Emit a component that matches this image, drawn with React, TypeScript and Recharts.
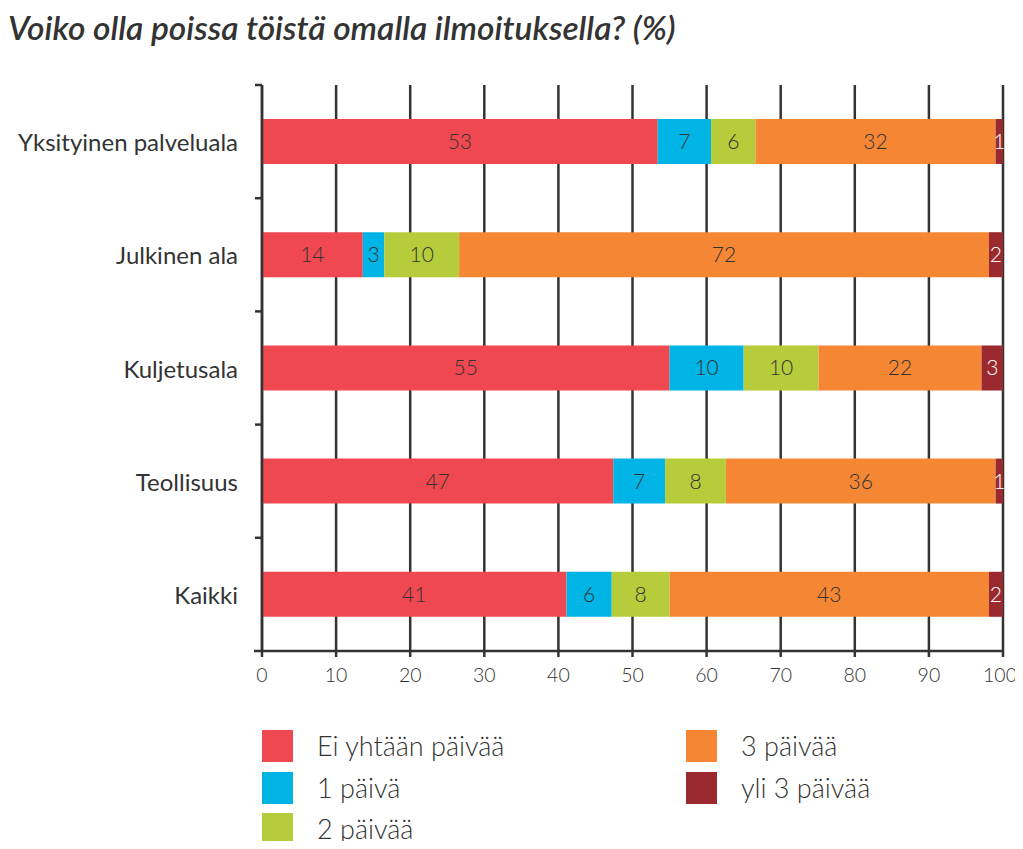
import React from 'react';
import { BarChart, Bar, XAxis, YAxis, CartesianGrid, LabelList } from 'recharts';

const categories = ['Yksityinen palveluala', 'Julkinen ala', 'Kuljetusala', 'Teollisuus', 'Kaikki'];
const eiYhtaan = [53.4, 13.6, 55.0, 47.4, 41.1];
const yksiPaiva = [7.2, 2.9, 10.0, 7.0, 6.1];
const kaksiPaivaa = [6.0, 10.1, 10.1, 8.2, 7.8];
const kolmePaivaa = [32.4, 71.5, 22.0, 36.4, 43.1];
const yliKolme = [1.0, 1.9, 2.9, 1.0, 1.9];
const xTicks = [0, 10, 20, 30, 40, 50, 60, 70, 80, 90, 100];

const seriesNames = ['Ei yhtään päivää', '1 päivä', '2 päivää', '3 päivää', 'yli 3 päivää'];
const seriesColors = ['#EF4850', '#00B4E5', '#B6CC3B', '#F58634', '#9A2A2E'];
const labelColors = ['#333333', '#333333', '#333333', '#333333', '#ffffff'];
const seriesKeys = ['s0', 's1', 's2', 's3', 's4'];
const seriesValues = [eiYhtaan, yksiPaiva, kaksiPaivaa, kolmePaivaa, yliKolme];

const data = categories.map((name, i) => {
  const row: any = { name };
  seriesKeys.forEach((k, j) => (row[k] = seriesValues[j][i]));
  return row;
});

const W = 1007;
const H = 700;
const TOP = 77;
const LEFT = 254;
const RIGHT = 995;
const BOTTOM = 643;
const XAXIS_H = 30;
const BAND = (BOTTOM - TOP) / categories.length;
const INK = '#333333';
const FONT = 'Lato, "Open Sans", sans-serif';

const CategoryTick = (props: any) => {
  const { y, payload, index } = props;
  const last = index === categories.length - 1;
  return (
    <g>
      <text
        x={LEFT - 24}
        y={y}
        textAnchor="end"
        dominantBaseline="central"
        fontFamily={FONT}
        fontSize={24}
        fill={INK}
      >
        {payload.value}
      </text>
      <line x1={LEFT - 7} x2={LEFT} y1={y - BAND / 2} y2={y - BAND / 2} stroke={INK} strokeWidth={2.5} />
      {last && (
        <line x1={LEFT - 8} x2={LEFT} y1={y + BAND / 2} y2={y + BAND / 2} stroke={INK} strokeWidth={2.5} />
      )}
    </g>
  );
};

const ValueTick = (props: any) => {
  const { x, payload } = props;
  const isLast = payload.value === xTicks[xTicks.length - 1];
  return (
    <text
      x={isLast ? x - 3 : x}
      y={BOTTOM + 23}
      textAnchor="middle"
      dominantBaseline="central"
      fontFamily={FONT}
      fontWeight={300}
      fontSize={19.5}
      fill={INK}
    >
      {payload.value}
    </text>
  );
};

const ChartLegend = () => {
  const col1 = [0, 1, 2];
  const col2 = [3, 4];
  const item = (i: number, x: number, row: number) => (
    <div
      key={i}
      style={{ position: 'absolute', left: x, top: row * 41.5, display: 'flex', alignItems: 'center', height: 32 }}
    >
      <div style={{ width: 31, height: 32, background: seriesColors[i], flex: 'none' }} />
      <span
        style={{
          marginLeft: 24,
          fontFamily: FONT,
          fontWeight: 300,
          fontSize: 27,
          lineHeight: '32px',
          color: INK,
          whiteSpace: 'nowrap',
        }}
      >
        {seriesNames[i]}
      </span>
    </div>
  );
  return (
    <div style={{ position: 'absolute', left: 254, top: 722, width: 700, height: 116 }}>
      {col1.map((i, r) => item(i, 0, r))}
      {col2.map((i, r) => item(i, 424, r))}
    </div>
  );
};

export default function App() {
  return (
    <div style={{ position: 'relative', width: W, height: 833, background: '#fff' }}>
      <style>{'.recharts-surface{overflow:visible}'}</style>
      <div
        style={{
          position: 'absolute',
          left: 0,
          top: -1,
          fontFamily: FONT,
          fontStyle: 'italic',
          fontWeight: 600,
          fontSize: 33.5,
          color: INK,
          whiteSpace: 'nowrap',
        }}
      >
        Voiko olla poissa töistä omalla ilmoituksella? (%)
      </div>
      <div style={{ position: 'absolute', left: 0, top: 0 }}>
        <BarChart
          width={W}
          height={H}
          data={data}
          layout="vertical"
          margin={{ top: TOP, right: W - RIGHT, left: 0, bottom: H - BOTTOM - XAXIS_H }}
          barSize={45}
          style={{ overflow: 'visible' }}
        >
          <CartesianGrid horizontal={false} vertical stroke={INK} strokeWidth={2.5} />
          <XAxis
            type="number"
            domain={[0, 100]}
            ticks={xTicks}
            interval={0}
            height={XAXIS_H}
            axisLine={{ stroke: INK, strokeWidth: 2.5 }}
            tickLine={{ stroke: INK, strokeWidth: 2.5 }}
            tickSize={6}
            tick={<ValueTick />}
            allowDataOverflow
          />
          <YAxis
            type="category"
            dataKey="name"
            width={LEFT}
            axisLine={{ stroke: INK, strokeWidth: 2.5 }}
            tickLine={false}
            tick={<CategoryTick />}
            interval={0}
          />
          {seriesKeys.map((k, j) => (
            <Bar key={k} dataKey={k} name={seriesNames[j]} stackId="a" fill={seriesColors[j]} isAnimationActive={false}>
              <LabelList
                dataKey={k}
                position="center"
                formatter={(v: any) => Math.round(Number(v))}
                fill={labelColors[j]}
                style={{ fontFamily: FONT, fontWeight: 300, fontSize: 21 }}
              />
            </Bar>
          ))}
        </BarChart>
      </div>
      <ChartLegend />
    </div>
  );
}
